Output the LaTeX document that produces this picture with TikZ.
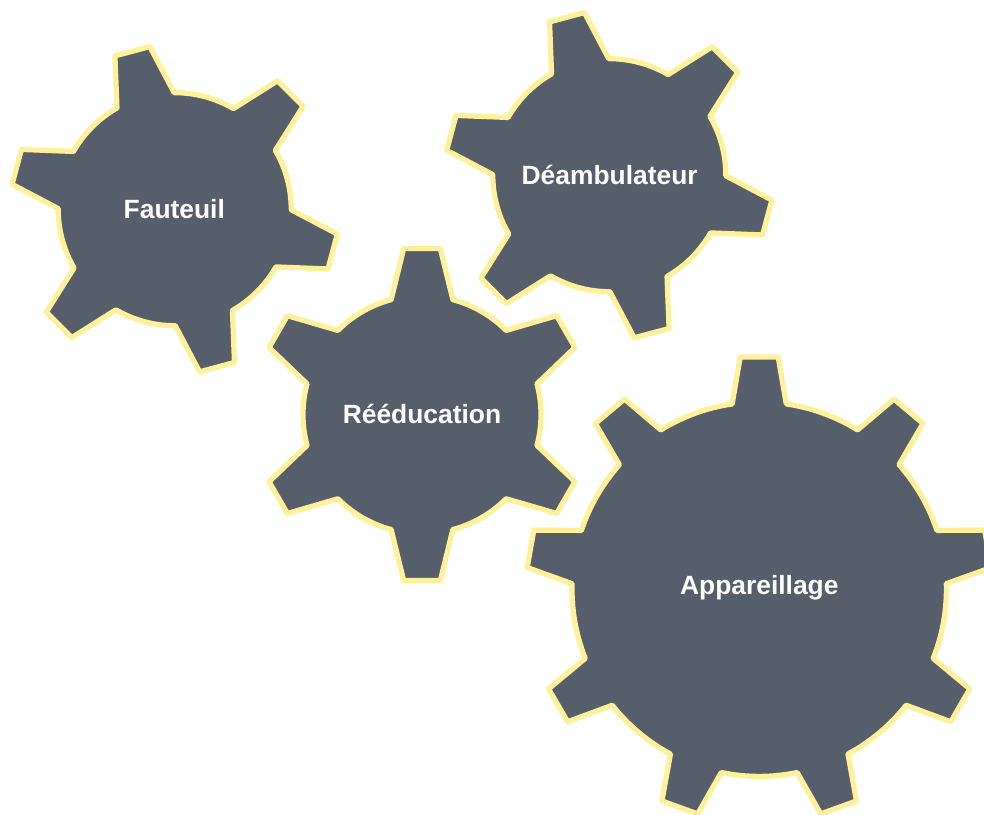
\documentclass[tikz,border=0pt]{standalone}
\usepackage{fontspec}
\setmainfont{Liberation Sans}
\definecolor{gearfill}{HTML}{565E6B}
\definecolor{gearline}{HTML}{FFF09A}
\tikzset{
	gear/.style={fill=gearfill, draw=gearline, line width=3.9pt, line join=round},
	gearlabel/.style={anchor=base, text=white, font=\fontsize{19.8}{22}\selectfont\bfseries, inner sep=0pt}
}
\begin{document}
\begin{tikzpicture}[x=0.75pt,y=0.75pt]
	\useasboundingbox (0,0) rectangle (984,814);
	\clip (0,0) rectangle (984,814);

	% name / centre / teeth / radii / half angles / first tooth / label position / label
	\foreach \gname/\gx/\gy/\gteeth/\grad/\gtip/\groot/\gtop/\gfirst/\lx/\ly/\gtext in {
		fauteuil/174.7/604.8/6/116.5/164.5/14.7/6.3/105/174.3/595.7/Fauteuil,
		deambulateur/609.3/638.8/6/116.5/164.5/14.7/6.3/105/609.7/629.9/Déambulateur,
		reeducation/422/399.4/6/119/167/15/6.3/90/422/390.5/Rééducation,
		appareillage/759.2/224.8/9/187.2/233/8.3/4.67/90/759.3/219.9/Appareillage}
	{
		\pgfmathsetmacro{\gstep}{360/\gteeth}
		\begin{scope}[shift={(\gx,\gy)}]
			\filldraw[gear] ({\gfirst-\groot}:\grad)
				\foreach \k in {1,...,\gteeth} {
					\pgfextra{\pgfmathsetmacro{\t}{\gfirst+(\k-1)*\gstep}}
					-- ({\t-\gtop}:\gtip) -- ({\t+\gtop}:\gtip) -- ({\t+\groot}:\grad)
					arc[start angle={\t+\groot}, end angle={\t+\gstep-\groot}, radius=\grad]
				} -- cycle;
		\end{scope}
		\node[gearlabel] (\gname) at (\lx,\ly) {\gtext};
	}
\end{tikzpicture}
\end{document}
